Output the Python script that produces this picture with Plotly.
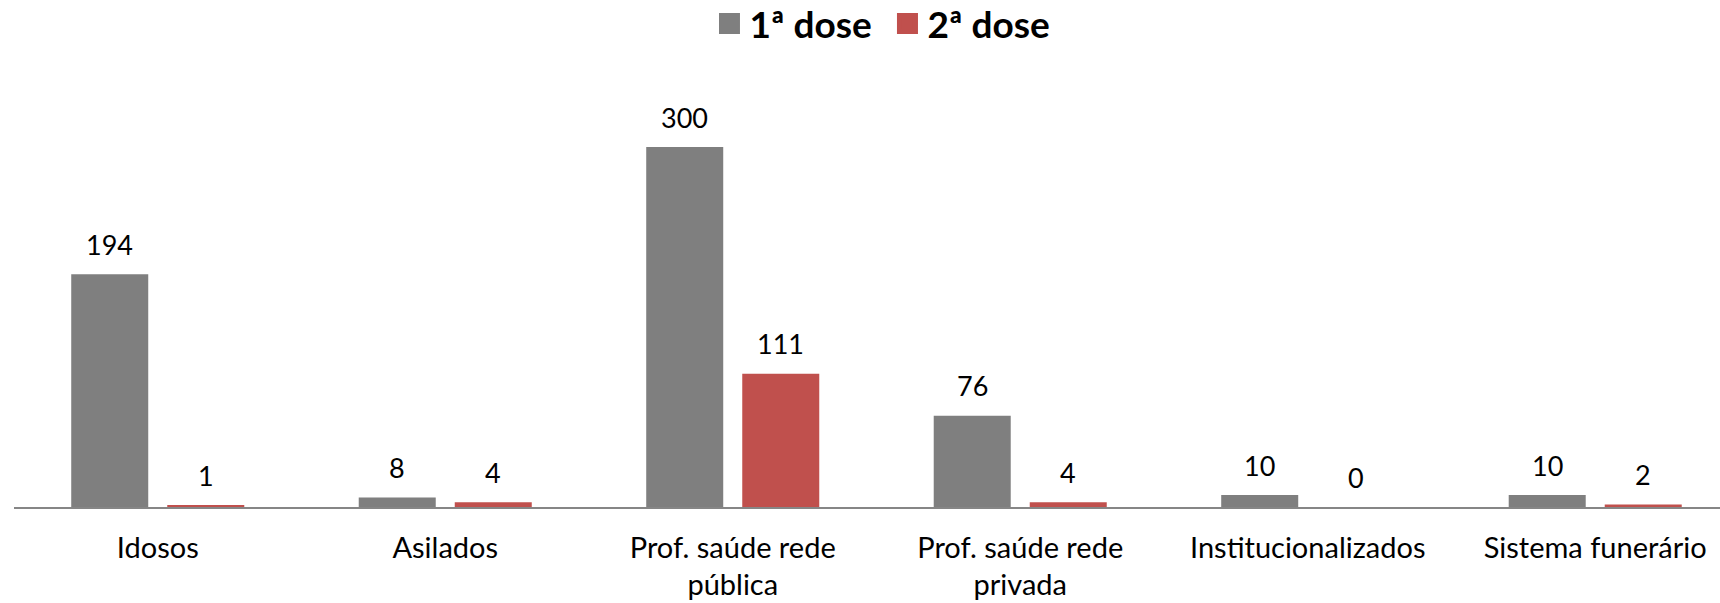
import plotly.graph_objects as go

categories = ["Idosos", "Asilados", "Prof. saúde rede<br>pública", "Prof. saúde rede<br>privada",
              "Institucionalizados", "Sistema funerário"]
dose1 = [194, 8, 300, 76, 10, 10]
dose2 = [1, 4, 111, 4, 0, 2]
series_names = ["1ª dose", "2ª dose"]
colors = ["#7F7F7F", "#C0504D"]

FONT = "Lato"
SLOT_PX = 48  # half group offset in px for labels

fig = go.Figure()
for name, vals, col in zip(series_names, [dose1, dose2], colors):
    fig.add_trace(go.Bar(
        x=categories, y=vals, name=name, marker=dict(color=col, line=dict(width=0)),
        showlegend=False, cliponaxis=False,
    ))
    # legend entry
    fig.add_trace(go.Scatter(
        x=[None], y=[None], mode="markers", name=name,
        marker=dict(symbol="square", size=16, color=col, line=dict(color=col, width=5)),
        showlegend=True,
    ))

for i, vals in enumerate([dose1, dose2]):
    shift = -SLOT_PX if i == 0 else SLOT_PX
    for c, v in zip(categories, vals):
        fig.add_annotation(x=c, y=v, text=str(v), showarrow=False, xshift=shift,
                           yshift=30, yanchor="middle", xanchor="center",
                           font=dict(family=FONT, size=27, color="#000000"))

fig.update_layout(
    width=1720, height=603,
    margin=dict(l=14, r=0, t=100, b=96, autoexpand=False),
    paper_bgcolor="white", plot_bgcolor="white",
    barmode="group", bargap=0.332, bargroupgap=0.198,
    font=dict(family=FONT, size=29, color="#000000"),
    showlegend=True,
    legend=dict(orientation="h", x=0.512, xanchor="center", y=1 - 24 / 603, yanchor="middle",
                yref="container", font=dict(family=FONT, size=37, color="#000000", weight="bold"),
                itemwidth=30, traceorder="normal", itemsizing="trace",
                entrywidth=133, entrywidthmode="pixels"),
    xaxis=dict(range=[-0.5, 5.434], showline=True, linecolor="#868686", linewidth=1.5,
               ticks="", showgrid=False, automargin=False, ticklabelstandoff=14,
               tickfont=dict(family=FONT, size=29)),
    yaxis=dict(range=[0, 339.17], visible=False, showgrid=False, automargin=False),
)
fig.write_html("out.html", config={"displayModeBar": False},
               post_script="document.body.style.margin='0';document.body.style.overflow='hidden';")
